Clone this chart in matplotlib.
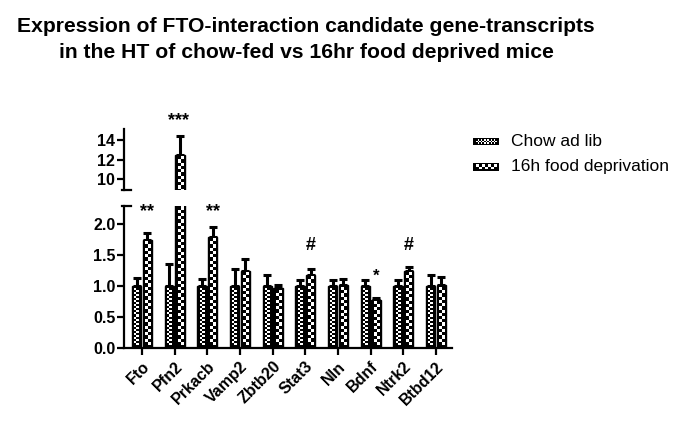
import numpy as np
import matplotlib
matplotlib.use("Agg")
import matplotlib.pyplot as plt
from matplotlib.lines import Line2D

plt.rcParams['font.family'] = ['Liberation Sans', 'DejaVu Sans']

genes = ['Fto', 'Pfn2', 'Prkacb', 'Vamp2', 'Zbtb20', 'Stat3', 'Nln', 'Bdnf', 'Ntrk2', 'Btbd12']
chow = [1.0, 1.0, 1.0, 1.0, 1.0, 1.0, 1.0, 1.0, 1.0, 1.0]
chow_err = [0.13, 0.36, 0.11, 0.27, 0.18, 0.10, 0.09, 0.09, 0.09, 0.17]
fd = [1.74, 12.5, 1.80, 1.25, 0.96, 1.18, 1.01, 0.78, 1.24, 1.01]
fd_err = [0.12, 1.95, 0.16, 0.19, 0.06, 0.09, 0.10, 0.03, 0.06, 0.13]
sig = ['**', '***', '**', '', '', '#', '', '*', '#', '']
series_labels = ['Chow ad lib', '16h food deprivation']
title_lines = ["Expression of FTO-interaction candidate gene-transcripts",
               "in the HT of chow-fed vs 16hr food deprived mice"]

W, H = 685, 421
fig = plt.figure(figsize=(W / 100, H / 100), dpi=100)

def fr(px0, py0, px1, py1):
    return [px0 / W, 1 - py1 / H, (px1 - px0) / W, (py1 - py0) / H]

ax_lo = fig.add_axes(fr(123.7, 205.7, 451.7, 347.7))
ax_hi = fig.add_axes(fr(123.7, 129.3, 451.7, 190.0))

x = np.arange(len(genes))
off, bw = 0.165, 0.29
xlim = (-0.56, 9.48)

for ax, ylim in ((ax_lo, (0, 2.3)), (ax_hi, (8.9, 15.1))):
    ax.set_xlim(*xlim)
    ax.set_ylim(*ylim)
    ax.bar(x - off, chow, bw, color='black', edgecolor='black', zorder=2)
    ax.bar(x + off, fd, bw, color='black', edgecolor='black', zorder=2)
    ax.errorbar(x - off, chow, yerr=[np.zeros(len(x)), chow_err], fmt='none',
                ecolor='black', elinewidth=2.2, capsize=2.6, capthick=2.2, zorder=1)
    ax.errorbar(x + off, fd, yerr=[np.zeros(len(x)), fd_err], fmt='none',
                ecolor='black', elinewidth=2.2, capsize=2.6, capthick=2.2, zorder=1)
    ax.set_xlim(*xlim)
    ax.set_ylim(*ylim)
    for s in ('top', 'right'):
        ax.spines[s].set_visible(False)
    ax.spines['left'].set_linewidth(1.6)
    ax.spines['bottom'].set_linewidth(1.6)
    ax.tick_params(axis='y', direction='out', length=5, width=1.6, labelsize=11, pad=1)
    ax.patch.set_alpha(0)

ax_lo.set_yticks([0.0, 0.5, 1.0, 1.5, 2.0])
ax_lo.set_yticklabels(['0.0', '0.5', '1.0', '1.5', '2.0'], fontweight='bold', fontsize=11.5)
ax_lo.set_xticks(x)
ax_lo.set_xticklabels(genes, rotation=45, ha='right', rotation_mode='anchor',
                      fontweight='bold', fontsize=11.5)
ax_lo.tick_params(axis='x', direction='out', length=5, width=1.6, pad=3)

ax_hi.set_yticks([10, 12, 14])
ax_hi.set_yticklabels(['10', '12', '14'], fontweight='bold', fontsize=11.5)
ax_hi.spines['bottom'].set_visible(False)
ax_hi.set_xticks([])

# break marks
for ax, yy in ((ax_lo, 1.0), (ax_hi, 0.0)):
    ax.add_line(Line2D([-0.004, 0.022], [yy, yy], transform=ax.transAxes,
                       color='black', lw=1.6, clip_on=False))


def checker(ax, xc, top, cw, ch, border):
    x0, x1 = xc - bw / 2, xc + bw / 2
    a = ax.transData.transform((x0, 0))
    b = ax.transData.transform((x1, top))
    bb = ax.get_window_extent()
    px0, px1 = a[0] + border, b[0] - border
    py0 = max(a[1], bb.y0 - 4) + border
    py1 = min(b[1], bb.y1 + 4) - border
    if py1 - py0 < 1:
        return
    ncol = max(1, int(round((px1 - px0) / cw)))
    nrow = max(1, int(round((py1 - py0) / ch)))
    arr = (np.add.outer(np.arange(nrow), np.arange(ncol)) % 2).astype(float)
    inv = ax.transData.inverted()
    d0 = inv.transform((px0, py0))
    d1 = inv.transform((px1, py1))
    ax.imshow(arr, cmap='gray', vmin=0, vmax=1, extent=[d0[0], d1[0], d0[1], d1[1]],
              origin='lower', interpolation='nearest', aspect='auto', zorder=3)


for ax, ylim in ((ax_lo, (0, 2.3)), (ax_hi, (8.9, 15.1))):
    for i in range(len(genes)):
        if ylim[0] < chow[i]:
            checker(ax, x[i] - off, chow[i], 2.0, 2.0, 2.6)
        if ylim[0] < fd[i]:
            checker(ax, x[i] + off, fd[i], 2.6, 3.2, 2.2)
    ax.set_xlim(*xlim)
    ax.set_ylim(*ylim)

# significance marks
sig_y = {'**': 2.2, '#': 1.65, '*': 1.16}
for i, s in enumerate(sig):
    if not s:
        continue
    if s == '***':
        ax_hi.text(x[i] + off - 0.05, 16.0, s, ha='center', va='center', fontsize=13,
                   fontweight='bold', clip_on=False)
    else:
        ax_lo.text(x[i] + off, sig_y[s], s, ha='center', va='center',
                   fontsize=13 if s != '*' else 12, fontweight='bold', clip_on=False)

for line, base in zip(title_lines, (32, 58)):
    fig.text(306 / W, 1 - base / H, line, ha='center', va='baseline', fontsize=15.2,
             fontweight='bold')

# legend (manual)
for k, (lab, cw, nr) in enumerate(zip(series_labels, (1.6, 3.2), (3, 2))):
    yc = 141.5 + k * 25.5
    lax = fig.add_axes(fr(473, yc - 3.8, 499, yc + 3.8))
    lax.set_xlim(0, 1)
    lax.set_ylim(0, 1)
    lax.axis('off')
    lax.bar([0.5], [1], 1, color='black', edgecolor='black', zorder=1)
    ncol = int(round(21 / cw))
    arr = (np.add.outer(np.arange(nr), np.arange(ncol)) % 2).astype(float)
    lax.imshow(arr, cmap='gray', vmin=0, vmax=1, extent=[0.1, 0.9, 0.18, 0.82],
               origin='lower', interpolation='nearest', aspect='auto', zorder=3)
    lax.set_xlim(0, 1)
    lax.set_ylim(0, 1)
    fig.text(511 / W, 1 - yc / H, lab, ha='left', va='center', fontsize=12.5)

fig.savefig('out.png', dpi=100)
